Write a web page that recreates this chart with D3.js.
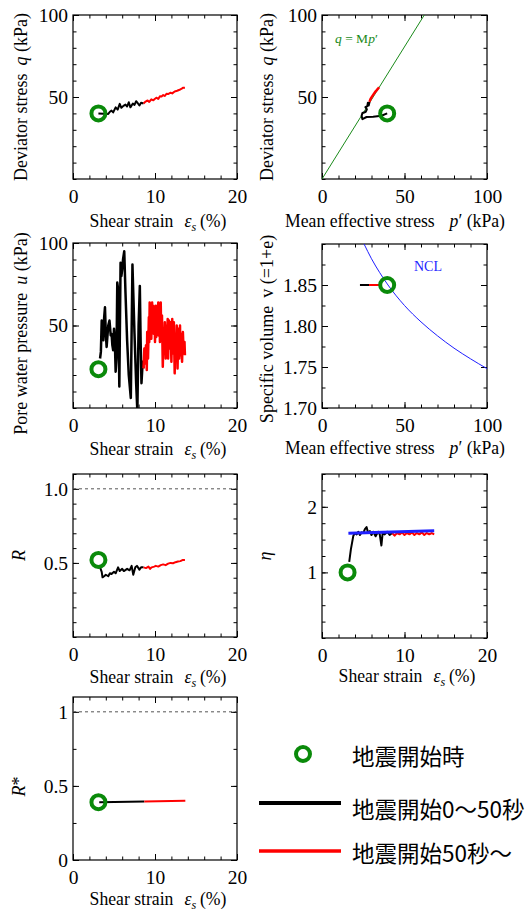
<!DOCTYPE html>
<html>
<head>
<meta charset="utf-8">
<script src="https://cdn.jsdelivr.net/npm/d3@7"></script>
<style>
  body { margin: 0; background: #fff; }
  svg { display: block; }
  text { font-family: "Liberation Serif", "Times New Roman", serif; fill: #000; }
</style>
</head>
<body>
<div id="chart"></div>
<script>
const width = 526;
const height = 914;

// state at the start of the earthquake (green circle)
const startStrain = 3.1;
const startQ = 40, startP = 39.5, startU = 23.5, startV = 1.85;
const startR = 0.52, startEta = 1.0, startRstar = 0.39;

// deviator stress q vs shear strain
const qBlack = [[3.1,40],[4.3,39.7],[4.5,41.0],[4.7,41.7],[4.9,40.6],[5.2,43.7],[5.45,42.3],[5.7,45.8],[5.9,43.4],[6.15,44.6],[6.4,45.4],[6.6,44.2],[6.8,46.8],[7.0,43.7],[7.3,46.0],[7.5,45.2],[7.7,47.4],[7.9,46.2],[8.1,44.8],[8.3,46.5],[8.6,46.0]];
const qRed = [[8.6,46.0],[8.85,47.2],[9.1,47.9],[9.3,47.0],[9.55,48.6],[9.8,48.0],[10.0,48.9],[10.2,49.6],[10.4,48.8],[10.6,50.5],[10.8,50.3],[11.0,51.2],[11.2,50.6],[11.4,52.0],[11.6,51.8],[11.9,52.6],[12.1,52.2],[12.4,53.4],[12.7,53.8],[13.0,54.4],[13.2,54.9],[13.4,55.6],[13.65,55.7]];

// stress path q vs p'
const pathBlack = [[39.5,40],[36.0,38.6],[31,38.0],[27,37.8],[24.5,36.5],[24,38.5],[24.5,40.2],[25.5,40.5],[26.5,41.0],[27.2,42.5],[26.3,43.8],[27.5,44.5],[27.8,46.5],[28.3,44.8],[28.8,47]];
const pathRed = [[28.8,47],[29.3,48.5],[30,49.8],[30.8,51],[31.6,52.2],[32.4,53.3],[33.2,54.2],[34,55.2],[34.6,56]];
const cslP = [0, 62];
const cslQ = [0, 100];

// pore water pressure u vs shear strain
const uBlack = [[3.3,30],[3.4,34],[3.5,53],[3.6,44],[3.7,41],[3.8,55],[3.9,61],[4.0,45],[4.1,37],[4.3,50],[4.45,53],[4.6,44],[4.7,45],[4.8,38],[4.9,35],[5.0,48],[5.1,41],[5.2,22],[5.3,30],[5.4,76],[5.5,72],[5.65,13],[5.8,88],[5.9,80],[6.0,84],[6.1,90],[6.25,95],[6.4,70],[6.6,41],[6.8,20],[7.05,6],[7.25,87],[7.35,70],[7.5,45],[7.7,15],[7.85,-2],[8.0,50],[8.15,74],[8.25,40],[8.35,15],[8.5,28],[8.6,24]];
const uRed = [[8.6,24],[8.7,36],[8.8,27],[8.9,38],[9.0,23],[9.05,46],[9.15,30],[9.25,55],[9.3,40],[9.35,64],[9.4,45],[9.5,60],[9.55,42],[9.65,64],[9.7,48],[9.8,62],[9.85,45],[9.95,60],[10.0,40],[10.1,62],[10.15,43],[10.25,58],[10.3,47],[10.4,64],[10.45,44],[10.55,58],[10.6,40],[10.7,64],[10.75,46],[10.85,56],[10.95,25],[11.05,48],[11.1,36],[11.2,52],[11.3,30],[11.4,50],[11.45,38],[11.55,54],[11.6,30],[11.7,53],[11.8,36],[11.9,52],[12.0,28],[12.1,54],[12.2,33],[12.3,52],[12.4,21],[12.5,45],[12.55,30],[12.65,50],[12.75,24],[12.85,48],[12.95,30],[13.05,50],[13.1,32],[13.2,45],[13.3,28],[13.4,46],[13.5,33],[13.6,40],[13.65,32]];

// specific volume vs p'
const vBlack = [[23,1.85],[28.5,1.85]];
const vRed = [[28.5,1.85],[36,1.85]];
const nclP = [25.5, 30, 35, 40, 50, 60, 70, 80, 90, 100];
const nclV = [1.900, 1.882, 1.865, 1.850, 1.825, 1.805, 1.788, 1.773, 1.760, 1.748];

// R vs shear strain
const rBlack = [[3.3,0.47],[3.5,0.44],[3.6,0.403],[3.8,0.41],[4.0,0.42],[4.3,0.41],[4.5,0.43],[4.7,0.425],[5.0,0.44],[5.2,0.43],[5.5,0.47],[5.7,0.445],[6.0,0.46],[6.2,0.445],[6.6,0.46],[6.9,0.45],[7.15,0.48],[7.35,0.42],[7.6,0.47],[7.8,0.48],[8.1,0.455],[8.3,0.47],[8.6,0.47]];
const rRed = [[8.6,0.47],[8.9,0.465],[9.2,0.475],[9.4,0.46],[9.6,0.47],[9.9,0.475],[10.1,0.48],[10.4,0.475],[10.7,0.485],[11.0,0.49],[11.3,0.485],[11.6,0.495],[11.9,0.5],[12.2,0.498],[12.5,0.505],[12.8,0.51],[13.1,0.512],[13.4,0.52],[13.65,0.52]];

// stress ratio eta vs shear strain
const etaBlack = [[3.3,1.16],[3.5,1.35],[3.8,1.56],[4.0,1.6],[4.2,1.58],[4.4,1.62],[4.6,1.57],[4.8,1.61],[5.0,1.6],[5.2,1.66],[5.4,1.69],[5.6,1.6],[5.8,1.63],[6.0,1.57],[6.2,1.62],[6.5,1.55],[6.8,1.62],[7.0,1.58],[7.2,1.41],[7.35,1.6],[7.6,1.58],[7.9,1.62],[8.2,1.57],[8.5,1.6]];
const etaRed = [[8.5,1.6],[8.8,1.56],[9.1,1.6],[9.4,1.58],[9.7,1.61],[10.0,1.57],[10.3,1.6],[10.6,1.58],[10.9,1.61],[11.2,1.57],[11.5,1.6],[11.8,1.58],[12.1,1.61],[12.4,1.57],[12.7,1.6],[13.0,1.58],[13.3,1.6],[13.6,1.58]];
const etaBlue = [[3.2,1.595],[13.6,1.635]];

// R* vs shear strain
const rsBlack = [[3.2,0.39],[8.7,0.394]];
const rsRed = [[8.7,0.394],[13.7,0.40]];

// tick labels
const strainTicks = [0, 10, 20];
const stressTicks = [0, 50, 100];
const qTickLabels = [50, 100];
const vTicks = [1.70, 1.75, 1.80, 1.85];
const rTicks = [0.5, 1.0];
const etaTicks = [1, 2];
const rsTicks = [0, 0.5, 1];

const legendLabels = ["地震開始時", "地震開始0～50秒", "地震開始50秒～"];

const svg = d3.select("#chart")
    .append("svg")
    .attr("width", width)
    .attr("height", height);

let clipId = 0;

const drawPanel = (cfg) => {
    const g = svg.append("g").attr("transform", `translate(${cfg.left}, ${cfg.top})`);
    const x = d3.scaleLinear().domain(cfg.xDom).range([0, cfg.w]);
    const y = d3.scaleLinear().domain(cfg.yDom).range([cfg.h, 0]);

    const xMinor = d3.range(cfg.xDom[0], cfg.xDom[1] + 1e-9, cfg.xStep);
    const yMinor = d3.range(cfg.yDom[0], cfg.yDom[1] + 1e-9, cfg.yStep);

    // [axis, transform, minor ticks, major ticks, padding (labels) or null, format]
    const axes = [
        [d3.axisBottom(x), `translate(0, ${cfg.h})`, xMinor, cfg.xMajor, 10, null],
        [d3.axisTop(x), null, xMinor, cfg.xMajor, null, null],
        [d3.axisLeft(y), null, yMinor, cfg.yMajor, 5, cfg.fmt],
        [d3.axisRight(y), `translate(${cfg.w}, 0)`, yMinor, cfg.yMajor, null, null]
    ];
    axes.forEach(([ax, tr, minor, major, pad, fmt]) => {
        const m = g.append("g").call(ax.tickValues(minor).tickSize(-3.5).tickFormat(""));
        const M = g.append("g").call(ax.tickValues(major).tickSize(-6).tickPadding(pad || 0)
            .tickFormat(pad ? (fmt || (d => d)) : ""));
        if (tr) { m.attr("transform", tr); M.attr("transform", tr); }
        [m, M].forEach(s => {
            s.select(".domain").remove();
            s.selectAll("line").attr("stroke", "#000").attr("stroke-width", 1);
            s.selectAll("text").attr("font-size", 19.5).attr("fill", "#000");
        });
    });

    g.append("rect")
        .attr("width", cfg.w)
        .attr("height", cfg.h)
        .attr("fill", "none")
        .attr("stroke", "#000")
        .attr("stroke-width", 1.2);

    const id = `clip${clipId++}`;
    g.append("clipPath").attr("id", id)
        .append("rect").attr("width", cfg.w).attr("height", cfg.h);
    const plot = g.append("g").attr("clip-path", `url(#${id})`);

    return {g, plot, x, y};
};

const xTitleStrain = (g, cx, yy) => {
    const t = g.append("text")
        .attr("transform", `translate(${cx}, ${yy}) scale(0.93, 1)`)
        .attr("text-anchor", "middle").attr("font-size", 19);
    t.append("tspan").text("Shear strain");
    t.append("tspan").attr("dx", 12).attr("font-style", "italic").text("ε");
    t.append("tspan").attr("font-style", "italic").attr("font-size", 13).attr("dy", 4).text("s");
    t.append("tspan").attr("dy", -4).attr("dx", 4).text("(%)");
};

const xTitleP = (g, cx, yy) => {
    const t = g.append("text")
        .attr("transform", `translate(${cx}, ${yy}) scale(0.93, 1)`)
        .attr("text-anchor", "middle").attr("font-size", 19);
    t.append("tspan").text("Mean effective stress");
    t.append("tspan").attr("dx", 16).attr("font-style", "italic").text("p");
    t.append("tspan").text("′ (kPa)");
};

const yTitle = (g, xx, cy, parts) => {
    const t = g.append("text")
        .attr("transform", `translate(${xx}, ${cy}) rotate(-90)`)
        .attr("text-anchor", "middle").attr("font-size", 18);
    parts.forEach(p => {
        const s = t.append("tspan").text(p.t);
        if (p.i) s.attr("font-style", "italic");
        if (p.dx) s.attr("dx", p.dx);
    });
};

const line = (x, y) => d3.line().x(d => x(d[0])).y(d => y(d[1]));

const drawSeries = (p, data, color, w) => {
    p.plot.append("path")
        .datum(data)
        .attr("d", line(p.x, p.y))
        .attr("fill", "none")
        .attr("stroke", color)
        .attr("stroke-width", w)
        .attr("stroke-linejoin", "round");
};

const drawStart = (p, sx, sy) => {
    p.g.append("circle")
        .attr("cx", p.x(sx))
        .attr("cy", p.y(sy))
        .attr("r", 7)
        .attr("fill", "none")
        .attr("stroke", "#0a8a0a")
        .attr("stroke-width", 4);
};

const leftX = 73, rightX = 322, pw = 164, ph = 164;

// panel 1: q vs strain
const p1 = drawPanel({left: leftX, top: 15, w: pw, h: ph, xDom: [0, 20], yDom: [0, 100],
    xStep: 2, yStep: 10, xMajor: strainTicks, yMajor: qTickLabels});
drawSeries(p1, qBlack, "#000", 2);
drawSeries(p1, qRed, "#f00", 2);
drawStart(p1, startStrain, startQ);
xTitleStrain(p1.g, pw / 2 + 3, ph + 48);
yTitle(p1.g, -46, ph / 2, [{t: "Deviator stress"}, {t: "q", i: true, dx: 8}, {t: " (kPa)"}]);

// panel 2: stress path
const p2 = drawPanel({left: rightX, top: 15, w: pw + 1, h: ph, xDom: [0, 100], yDom: [0, 100],
    xStep: 10, yStep: 10, xMajor: stressTicks, yMajor: qTickLabels});
p2.plot.append("path")
    .datum(d3.zip(cslP, cslQ))
    .attr("d", line(p2.x, p2.y))
    .attr("fill", "none").attr("stroke", "#1a8a1a").attr("stroke-width", 1);
const csl = p2.g.append("text").attr("x", 13).attr("y", 28)
    .attr("font-size", 13.5).style("fill", "#1a8a1a");
csl.append("tspan").attr("font-style", "italic").text("q");
csl.append("tspan").text(" = M");
csl.append("tspan").attr("font-style", "italic").text("p");
csl.append("tspan").text("′");
drawSeries(p2, pathBlack, "#000", 2);
drawSeries(p2, pathRed, "#f00", 2.5);
drawStart(p2, startP, startQ);
xTitleP(p2.g, pw / 2 - 9, ph + 48);
yTitle(p2.g, -49, ph / 2, [{t: "Deviator stress"}, {t: "q", i: true, dx: 8}, {t: " (kPa)"}]);

// panel 3: pore water pressure
const p3 = drawPanel({left: leftX, top: 243, w: pw, h: 165, xDom: [0, 20], yDom: [0, 100],
    xStep: 2, yStep: 10, xMajor: strainTicks, yMajor: qTickLabels});
drawSeries(p3, uBlack, "#000", 2.5);
drawSeries(p3, uRed, "#f00", 2.5);
drawStart(p3, startStrain, startU);
xTitleStrain(p3.g, pw / 2 + 3, 165 + 47);
yTitle(p3.g, -46, 165 / 2 + 8, [{t: "Pore water pressure"}, {t: "u", i: true, dx: 8}, {t: " (kPa)"}]);

// panel 4: specific volume
const p4 = drawPanel({left: rightX, top: 244, w: pw + 1, h: 164, xDom: [0, 100], yDom: [1.70, 1.90],
    xStep: 10, yStep: 0.025, xMajor: stressTicks, yMajor: vTicks, fmt: d3.format(".2f")});
p4.plot.append("path")
    .datum(d3.zip(nclP, nclV))
    .attr("d", line(p4.x, p4.y).curve(d3.curveMonotoneX))
    .attr("fill", "none").attr("stroke", "#1f1fff").attr("stroke-width", 1);
p4.g.append("text").attr("x", 92).attr("y", 27)
    .attr("font-size", 14).style("fill", "#1f1fff").text("NCL");
drawSeries(p4, vBlack, "#000", 2);
drawSeries(p4, vRed, "#f00", 2);
drawStart(p4, startP, startV);
xTitleP(p4.g, pw / 2 - 9, 164 + 46);
yTitle(p4.g, -49, 164 / 2 + 3, [{t: "Specific volume"}, {t: "v (=1+e)", dx: 8}]);

// panel 5: R
const p5 = drawPanel({left: leftX, top: 474, w: pw, h: 163, xDom: [0, 20], yDom: [0, 1.1],
    xStep: 2, yStep: 0.1, xMajor: strainTicks, yMajor: rTicks, fmt: d3.format(".1f")});
p5.plot.append("line")
    .attr("x1", 0).attr("x2", pw)
    .attr("y1", p5.y(1)).attr("y2", p5.y(1))
    .attr("stroke", "#555").attr("stroke-width", 1).attr("stroke-dasharray", "3,3");
drawSeries(p5, rBlack, "#000", 2);
drawSeries(p5, rRed, "#f00", 2);
drawStart(p5, startStrain, startR);
xTitleStrain(p5.g, pw / 2 + 3, 163 + 46);
yTitle(p5.g, -48, 163 / 2, [{t: "R", i: true}]);

// panel 6: eta
const p6 = drawPanel({left: rightX, top: 474, w: pw + 1, h: 164, xDom: [0, 20], yDom: [0, 2.5],
    xStep: 2, yStep: 0.25, xMajor: strainTicks, yMajor: etaTicks});
drawSeries(p6, etaBlack, "#000", 2);
drawSeries(p6, etaRed, "#f00", 2);
drawSeries(p6, etaBlue, "#1f1fff", 3);
drawStart(p6, startStrain, startEta);
xTitleStrain(p6.g, pw / 2 + 3, 164 + 44);
yTitle(p6.g, -51, 164 / 2, [{t: "η", i: true}]);

// panel 7: R*
const p7 = drawPanel({left: leftX, top: 697, w: pw, h: 163, xDom: [0, 20], yDom: [0, 1.1],
    xStep: 2, yStep: 0.25, xMajor: strainTicks, yMajor: rsTicks});
p7.plot.append("line")
    .attr("x1", 0).attr("x2", pw)
    .attr("y1", p7.y(1)).attr("y2", p7.y(1))
    .attr("stroke", "#555").attr("stroke-width", 1).attr("stroke-dasharray", "3,3");
drawSeries(p7, rsBlack, "#000", 2);
drawSeries(p7, rsRed, "#f00", 2);
drawStart(p7, startStrain, startRstar);
xTitleStrain(p7.g, pw / 2 + 3, 163 + 45);
yTitle(p7.g, -48, 163 / 2 + 8, [{t: "R", i: true}, {t: "*"}]);

// legend
const legend = svg.append("g");
legend.append("circle")
    .attr("cx", 303).attr("cy", 754).attr("r", 7)
    .attr("fill", "none").attr("stroke", "#0a8a0a").attr("stroke-width", 4);
legend.append("line")
    .attr("x1", 259).attr("x2", 341).attr("y1", 803).attr("y2", 803)
    .attr("stroke", "#000").attr("stroke-width", 4);
legend.append("line")
    .attr("x1", 259).attr("x2", 341).attr("y1", 851).attr("y2", 851)
    .attr("stroke", "#f00").attr("stroke-width", 3.5);
legend.selectAll("text.lg")
    .data(legendLabels)
    .enter()
    .append("text")
    .attr("class", "lg")
    .attr("x", 352)
    .attr("y", (d, i) => [755, 808, 852][i])
    .attr("dominant-baseline", "central")
    .attr("font-size", 22.5)
    .style("font-family", "'Noto Sans CJK JP', sans-serif")
    .text(d => d);
</script>
</body>
</html>
